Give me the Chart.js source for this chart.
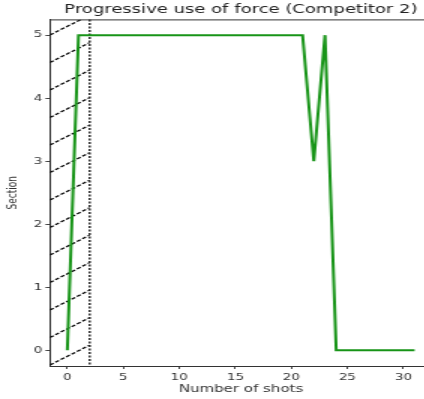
<!DOCTYPE html>
<html>
<head>
<meta charset="utf-8">
<script src="https://cdn.jsdelivr.net/npm/chart.js@4/dist/chart.umd.min.js"></script>
<style>
  html, body { margin: 0; padding: 0; background: #fff; overflow: hidden; }
  /* the reference figure is stretched sideways, so the canvas is too */
  #wrap { width: 288px; height: 399px; transform: scaleX(1.5); transform-origin: 0 0; }
</style>
</head>
<body>
<div id="wrap"><canvas id="c" width="288" height="399"></canvas></div>
<script>
// ---- data ----
const shots   = [0, 1, 2, 3, 4, 5, 6, 7, 8, 9, 10, 11, 12, 13, 14, 15,
                 16, 17, 18, 19, 20, 21, 22, 23, 24, 25, 26, 27, 28, 29, 30, 31];
const section = [0, 5, 5, 5, 5, 5, 5, 5, 5, 5, 5, 5, 5, 5, 5, 5,
                 5, 5, 5, 5, 5, 5, 3, 5, 0, 0, 0, 0, 0, 0, 0, 0];
const xTicks = [0, 5, 10, 15, 20, 25, 30];
const yTicks = [0, 1, 2, 3, 4, 5];
const zoneEnd = 2;   // hatched zone runs up to this shot

const font = 'DejaVu Sans';

// hatched zone + dashed boundary, drawn under the line
const zonePlugin = {
  id: 'zone',
  beforeDatasetsDraw(chart) {
    const { ctx, chartArea: a, scales: { x } } = chart;
    const x0 = a.left, x1 = x.getPixelForValue(zoneEnd);
    const w = x1 - x0, rise = w * 0.75, step = 27.5;
    ctx.save();
    ctx.beginPath();
    ctx.rect(x0, a.top, w, a.bottom - a.top);
    ctx.clip();
    ctx.strokeStyle = '#000';
    ctx.lineWidth = 1.2;
    ctx.setLineDash([3, 1.5]);
    ctx.beginPath();
    for (let y = a.bottom - 1 + step * 2; y > a.top - step; y -= step) {
      ctx.moveTo(x0, y);
      ctx.lineTo(x1, y - rise);
    }
    ctx.stroke();
    ctx.restore();

    ctx.save();
    ctx.strokeStyle = '#111';
    ctx.lineWidth = 1.3;
    ctx.setLineDash([2, 1.5]);
    ctx.beginPath();
    ctx.moveTo(x1, a.top);
    ctx.lineTo(x1, a.bottom);
    ctx.stroke();
    ctx.restore();
  },
  afterDraw(chart) {
    // top spine
    const { ctx, chartArea: a } = chart;
    ctx.save();
    ctx.strokeStyle = '#333';
    ctx.lineWidth = 1;
    ctx.beginPath();
    ctx.moveTo(a.left, a.top + 0.5);
    ctx.lineTo(a.right, a.top + 0.5);
    ctx.stroke();
    ctx.restore();
  }
};

new Chart(document.getElementById('c'), {
  type: 'line',
  data: {
    datasets: [{
      data: shots.map((s, i) => ({ x: s, y: section[i] })),
      borderColor: '#179417',
      borderWidth: 2,
      pointRadius: 0,
      tension: 0,
      fill: false
    }]
  },
  options: {
    responsive: false,
    animation: false,
    devicePixelRatio: 1,
    layout: { padding: { left: 0, right: 0, top: 0, bottom: 0 } },
    plugins: {
      legend: { display: false },
      tooltip: { enabled: false },
      title: {
        display: true,
        text: 'Progressive use of force (Competitor 2)',
        fullSize: false,
        color: '#222',
        font: { family: font, size: 12, weight: 'normal' },
        padding: { top: 3, bottom: 2 }
      }
    },
    scales: {
      x: {
        type: 'linear',
        min: -1.55,
        max: 32.55,
        afterBuildTicks: s => { s.ticks = xTicks.map(v => ({ value: v })); },
        afterFit: s => { s.height = 33; },
        grid: { display: true, drawOnChartArea: false, drawTicks: true, tickLength: 3, color: '#444' },
        border: { display: true, color: '#333', width: 1 },
        ticks: { color: '#333', padding: 3, maxRotation: 0, font: { family: font, size: 9 } },
        title: {
          display: true, text: 'Number of shots', color: '#333',
          font: { family: font, size: 10 }, padding: { top: 0, bottom: 4 }
        }
      },
      y: {
        type: 'linear',
        min: -0.25,
        max: 5.25,
        afterBuildTicks: s => { s.ticks = yTicks.map(v => ({ value: v })); },
        afterFit: s => { s.width = 33.3; },
        grid: { display: true, drawOnChartArea: false, drawTicks: true, tickLength: 3, color: '#444' },
        border: { display: true, color: '#333', width: 1 },
        ticks: { color: '#333', padding: 2, font: { family: font, size: 9 } },
        title: {
          display: true, text: 'Section', color: '#333',
          font: { family: font, size: 9 }, padding: { top: 3, bottom: 0 }
        }
      }
    }
  },
  plugins: [zonePlugin]
});
</script>
</body>
</html>
